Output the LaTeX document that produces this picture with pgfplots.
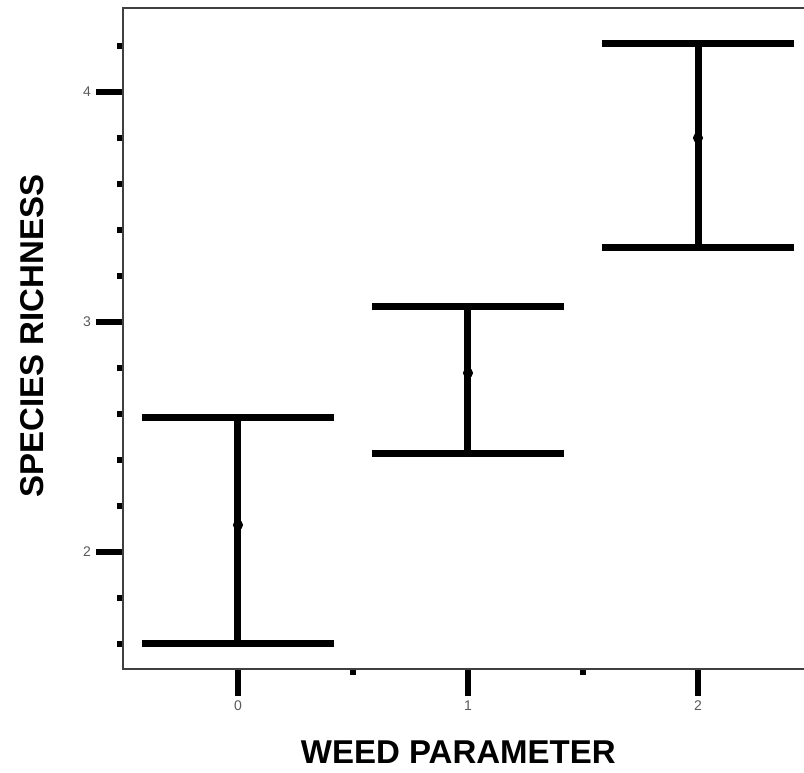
\documentclass[border=0pt]{standalone}
\usepackage{pgfplots}
\pgfplotsset{compat=1.18}
\usepackage{fontspec}
\setmainfont{Liberation Sans}
\begin{document}
\begin{tikzpicture}
\path[use as bounding box] (-61.5pt,-51.5pt) rectangle (340.5pt,334.5pt);
\begin{axis}[
  at={(0,0)}, anchor=south west,
  scale only axis,
  width=345pt, height=330.5pt,
  xmin=-0.5, xmax=2.5,
  ymin=1.491, ymax=4.365,
  axis line style={line width=1pt, black!75},
  xtick={0,1,2},
  minor xtick={0.5,1.5},
  ytick={2,3,4},
  minor ytick={1.6,1.8,2.2,2.4,2.6,2.8,3.2,3.4,3.6,3.8,4.2},
  tick align=outside,
  xtick pos=bottom, ytick pos=left,
  major tick length=13.5pt,
  minor tick length=3pt,
  major tick style={line width=3.2pt, black},
  minor tick style={line width=3pt, black},
  /pgf/number format/assume math mode=true,
  tick label style={font=\fontsize{7}{8}\selectfont, text=black!65},
  yticklabel style={xshift=1pt},
  xticklabel style={yshift=1pt},
  xlabel={WEED PARAMETER},
  ylabel={SPECIES RICHNESS},
  label style={font=\fontsize{16.5}{18}\selectfont\bfseries},
  xlabel style={at={(rel axis cs:0.486,0)}, anchor=center, yshift=-41.5pt},
  ylabel style={at={(rel axis cs:0,0.504)}, anchor=center, yshift=45.5pt},
]
\addplot[only marks, mark=*, mark size=2.3pt, black,
  error bars/.cd, y dir=both, y explicit,
  error bar style={line width=3.5pt, black},
  error mark options={rotate=90, line width=3.5pt, black, mark size=48pt}]
coordinates {
  (0,2.117) += (0,0.466) -= (0,0.517)
  (1,2.778) += (0,0.287) -= (0,0.348)
  (2,3.800) += (0,0.409) -= (0,0.478)
};
\end{axis}
\end{tikzpicture}
\end{document}
